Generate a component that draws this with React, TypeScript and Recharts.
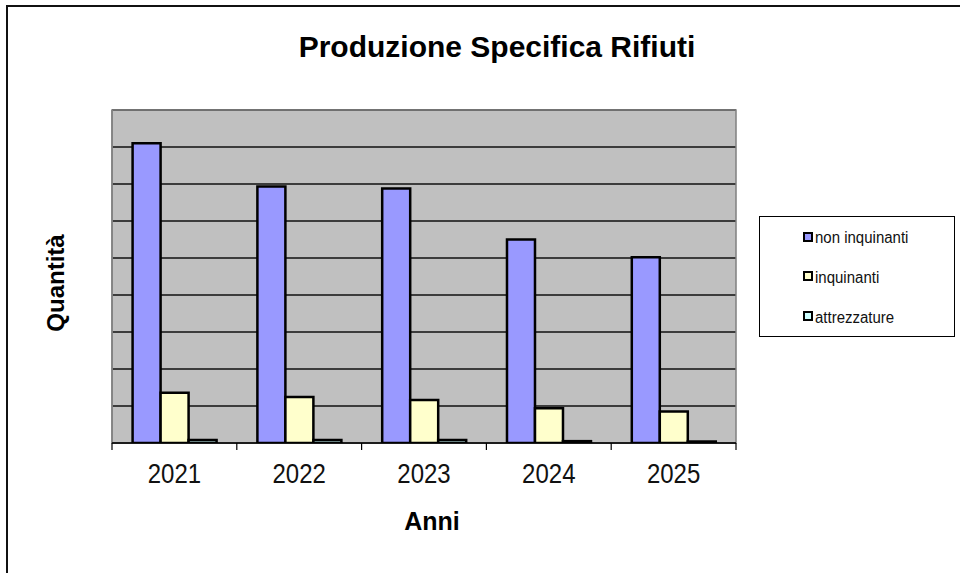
import React from 'react';
import { BarChart, Bar, XAxis, YAxis, CartesianGrid, ReferenceArea } from 'recharts';

const years = ['2021', '2022', '2023', '2024', '2025'];
const nonInquinanti = [810, 693, 688, 550, 502];
const inquinanti = [136, 124, 116, 94, 85];
const attrezzature = [8, 8, 8, 5, 4];
const yTicks = [0, 100, 200, 300, 400, 500, 600, 700, 800, 900];
const seriesKeys = ['nonInq', 'inq', 'attr'];
const seriesNames = ['non inquinanti', 'inquinanti', 'attrezzature'];
const seriesColors = ['#9999FF', '#FFFFCC', '#CCFFFF'];

const data = years.map((y, i) => ({
  year: y,
  nonInq: nonInquinanti[i],
  inq: inquinanti[i],
  attr: attrezzature[i],
}));

const W = 960;
const H = 573;
const PLOT_LEFT = 112;
const PLOT_RIGHT = 736;
const PLOT_TOP = 110;
const PLOT_BOTTOM = 443;
const BAND = (PLOT_RIGHT - PLOT_LEFT) / years.length;
const FONT = '"Liberation Sans", Arial, sans-serif';

function EmptyTick() {
  return <g />;
}

function YearTick(props: any) {
  const { x, y, payload, index } = props;
  return (
    <g>
      <line x1={x - BAND / 2} x2={x - BAND / 2} y1={y} y2={y + 7} stroke="#000" strokeWidth={1.2} />
      {index === years.length - 1 && (
        <line x1={x + BAND / 2} x2={x + BAND / 2} y1={y} y2={y + 7} stroke="#000" strokeWidth={1.2} />
      )}
      <text
        x={0}
        y={0}
        transform={`translate(${x} ${y + 40}) scale(1 1.13)`}
        textAnchor="middle"
        fontSize={24}
        fill="#111"
        fontFamily={FONT}
      >
        {payload.value}
      </text>
    </g>
  );
}

function LegendBox() {
  return (
    <div
      style={{
        position: 'absolute',
        left: 759,
        top: 216,
        boxSizing: 'border-box',
        width: 196,
        height: 121,
        border: '1px solid #000',
        background: '#fff',
        display: 'flex',
        flexDirection: 'column',
        justifyContent: 'space-around',
        paddingLeft: 43,
        fontFamily: FONT,
        fontSize: 15,
        color: '#111',
      }}
    >
      {seriesNames.map((n, i) => (
        <div key={n} style={{ display: 'flex', alignItems: 'center', lineHeight: '17px' }}>
          <span
            style={{
              display: 'inline-block',
              boxSizing: 'border-box',
              width: 10,
              height: 10,
              background: seriesColors[i],
              border: '2px solid #000',
              marginRight: 2,
            }}
          />
          <span style={{ display: 'inline-block', transform: 'scaleY(1.15)' }}>{n}</span>
        </div>
      ))}
    </div>
  );
}

export default function App() {
  return (
    <div
      style={{
        position: 'absolute',
        left: 0,
        top: 0,
        width: W,
        height: H,
        overflow: 'hidden',
        background: '#fff',
        fontFamily: FONT,
      }}
    >
      <div
        style={{
          position: 'absolute',
          left: 6,
          top: 5,
          width: 1100,
          height: 1100,
          border: '2px solid #111',
        }}
      />
      <div style={{ position: 'absolute', left: 0, top: 0 }}>
        <BarChart
          width={W}
          height={H}
          data={data}
          margin={{ top: PLOT_TOP, right: W - PLOT_RIGHT, bottom: 0, left: 0 }}
          barCategoryGap="16.5%"
          barGap={0}
        >
          <CartesianGrid vertical={false} stroke="#111" strokeWidth={1.5} fill="#C0C0C0" fillOpacity={1} />
          <ReferenceArea y1={0} y2={900} fill="none" stroke="#808080" strokeWidth={1.5} ifOverflow="visible" />
          <YAxis
            domain={[0, 900]}
            ticks={yTicks}
            tick={<EmptyTick />}
            tickLine={false}
            width={PLOT_LEFT}
            axisLine={{ stroke: '#808080', strokeWidth: 1.5 }}
            allowDataOverflow
          />
          <XAxis
            dataKey="year"
            height={H - PLOT_BOTTOM}
            tickSize={0}
            tickMargin={0}
            tickLine={false}
            axisLine={{ stroke: '#000', strokeWidth: 1.5 }}
            tick={<YearTick />}
            interval={0}
          />
          {seriesKeys.map((k, i) => (
            <Bar
              key={k}
              dataKey={k}
              name={seriesNames[i]}
              fill={seriesColors[i]}
              stroke="#000"
              strokeWidth={2.5}
              isAnimationActive={false}
            />
          ))}
        </BarChart>
      </div>
      <LegendBox />
      <svg
        width={W}
        height={H}
        style={{ position: 'absolute', left: 0, top: 0, pointerEvents: 'none' }}
      >
        <text x={497} y={57} textAnchor="middle" fontSize={30} fontWeight="bold" fill="#000" fontFamily={FONT}>
          Produzione Specifica Rifiuti
        </text>
        <text x={432} y={530} textAnchor="middle" fontSize={25} fontWeight="bold" fill="#000" fontFamily={FONT}>
          Anni
        </text>
        <text
          x={64}
          y={283}
          textAnchor="middle"
          fontSize={24}
          fontWeight="bold"
          fill="#000"
          fontFamily={FONT}
          transform="rotate(-90 64 283)"
        >
          Quantità
        </text>
      </svg>
    </div>
  );
}
